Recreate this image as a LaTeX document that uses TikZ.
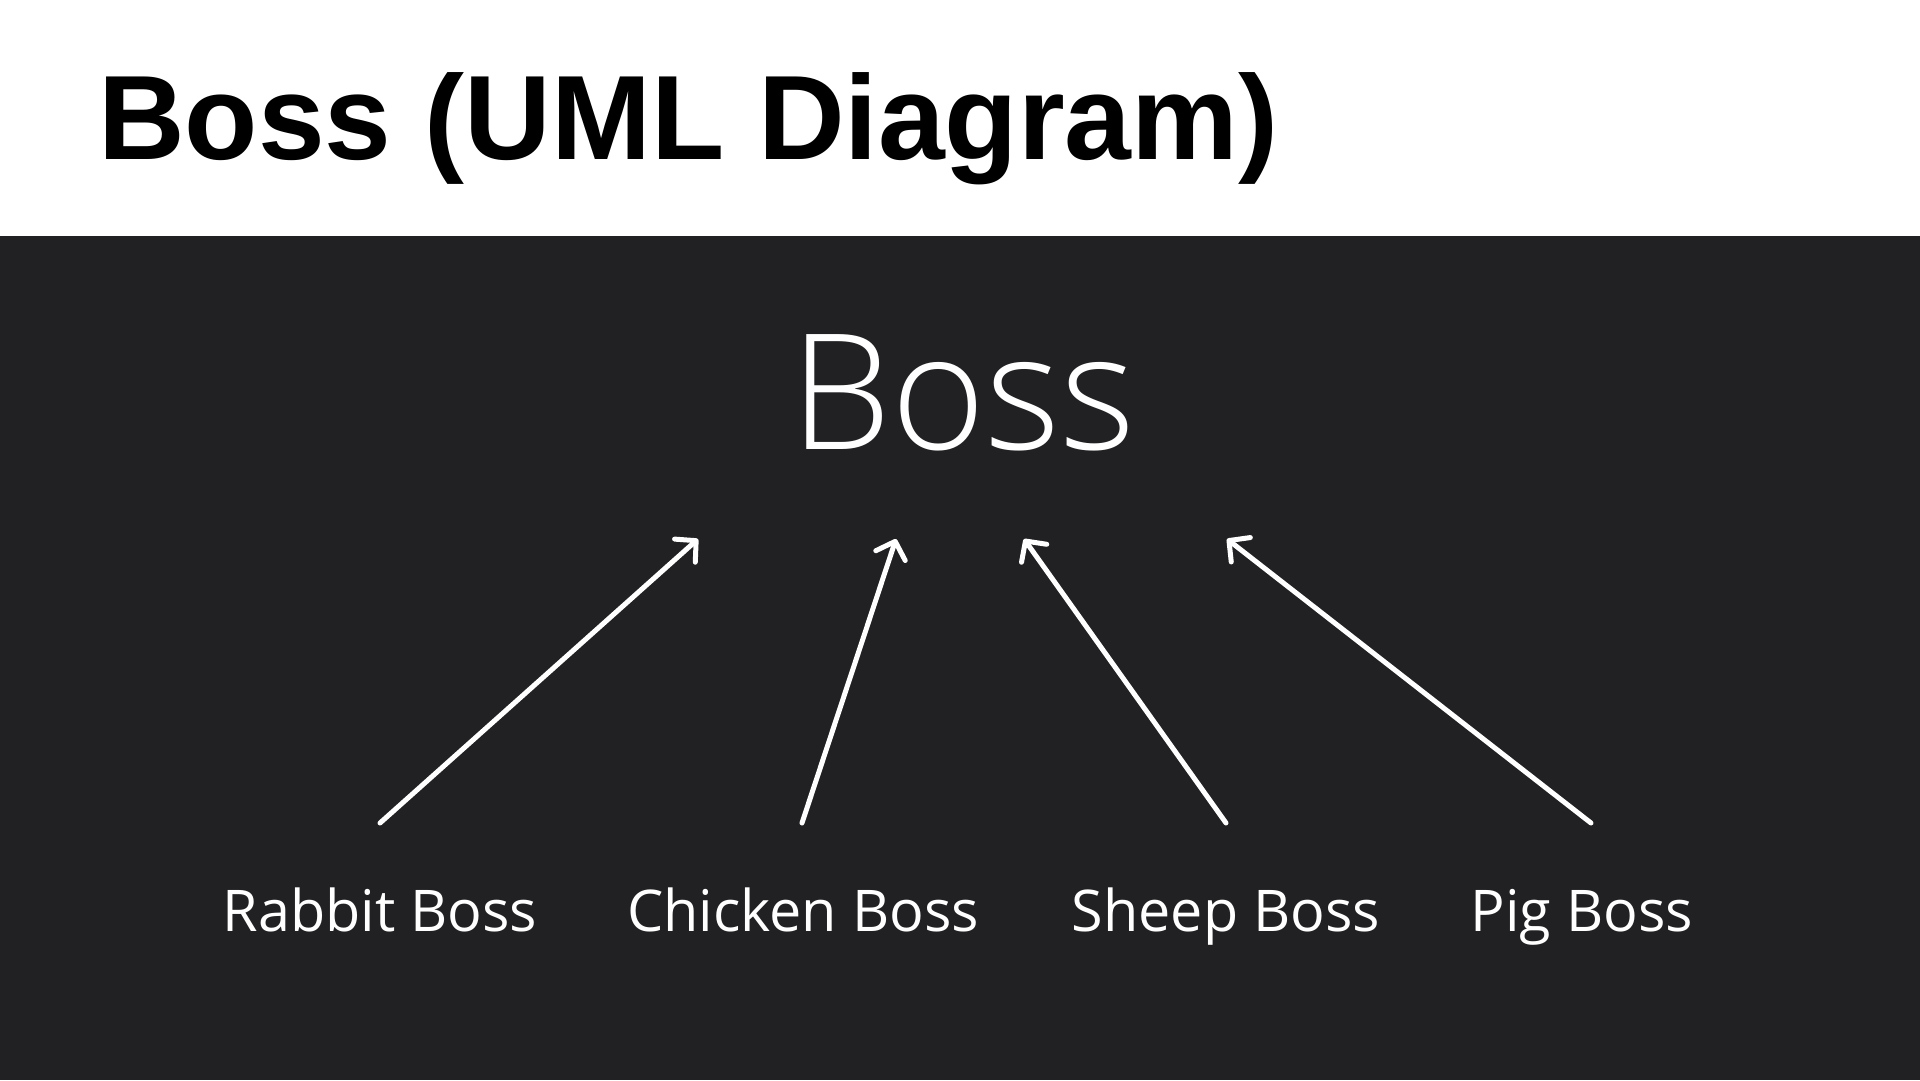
\documentclass[tikz,border=0pt]{standalone}
\usepackage{fontspec}
\usetikzlibrary{arrows.meta}
\setmainfont{Liberation Sans}
\newfontfamily\titlefont{Liberation Sans}
\IfFontExistsTF{Open Sans Light}{\newfontfamily\lightfont{Open Sans Light}}{\newfontfamily\lightfont{Open Sans}}
\newfontfamily\labelfont{Open Sans}
\definecolor{panel}{RGB}{33,33,35}
\tikzset{
  inherit/.style={draw=white, line width=5pt, line cap=round, line join=round,
    -{Straight Barb[length=15pt,width=31pt,line cap=round,line join=round]}},
  childlabel/.style={text=white, anchor=base, inner sep=0pt, font=\labelfont\fontsize{57.5}{69}\selectfont},
}
\begin{document}
\begin{tikzpicture}[x=1pt,y=-1pt]
\useasboundingbox (0,0) rectangle (1920,1080);
\fill[white] (0,0) rectangle (1920,236);
\fill[panel] (0,236) rectangle (1920,1080);
\node[anchor=base west, inner sep=0pt, font=\titlefont\bfseries\fontsize{120}{144}\selectfont] (title) at (98,159) {Boss (UML Diagram)};
\node[anchor=base, inner sep=0pt, text=white, font=\lightfont\fontsize{161}{193}\selectfont] (boss) at (963,449) {Boss};
\node[childlabel] (rabbit) at (380,931) {Rabbit Boss};
\node[childlabel] (chicken) at (803,931) {Chicken Boss};
\node[childlabel] (sheep) at (1226,931) {Sheep Boss};
\node[childlabel] (pig) at (1582,931) {Pig Boss};
\coordinate (r0) at (380,823);
\coordinate (c0) at (802,823);
\coordinate (s0) at (1226,823);
\coordinate (p0) at (1591,823);
\coordinate (r1) at (698,539);
\coordinate (c1) at (896,539);
\coordinate (s1) at (1024,539);
\coordinate (p1) at (1227,539);
\draw[inherit] (r0) -- (r1);
\draw[inherit] (c0) -- (c1);
\draw[inherit] (s0) -- (s1);
\draw[inherit] (p0) -- (p1);
\end{tikzpicture}
\end{document}
